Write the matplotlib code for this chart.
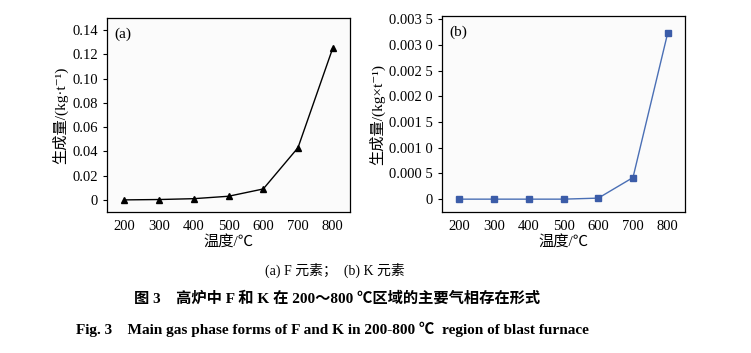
import matplotlib
matplotlib.use("Agg")
import matplotlib.pyplot as plt

plt.rcParams["font.family"] = ["Liberation Serif", "Noto Sans CJK SC", "DejaVu Serif"]
plt.rcParams["axes.unicode_minus"] = False

temps = [200, 300, 400, 500, 600, 700, 800]
f_amount = [0.0, 0.0003, 0.001, 0.003, 0.009, 0.043, 0.125]
k_amount = [0.0, 0.0, 0.0, 0.0, 0.00002, 0.00042, 0.00323]

f_yticks = [0, 0.02, 0.04, 0.06, 0.08, 0.10, 0.12, 0.14]
f_ylabels = ["0", "0.02", "0.04", "0.06", "0.08", "0.10", "0.12", "0.14"]
k_yticks = [0, 0.0005, 0.001, 0.0015, 0.002, 0.0025, 0.003, 0.0035]
k_ylabels = ["0", "0.000 5", "0.001 0", "0.001 5", "0.002 0",
             "0.002 5", "0.003 0", "0.003 5"]

fig = plt.figure(figsize=(7.51, 3.53), dpi=100)
ax_a = fig.add_axes([0.1425, 0.3994, 0.3236, 0.5496])
ax_b = fig.add_axes([0.5886, 0.3994, 0.3236, 0.5552])

blue = "#3b5ca8"
ax_a.plot(temps, f_amount, "k-", lw=1.0, marker="^", ms=5)
ax_b.plot(temps, k_amount, "-", color="#4a6fb5", lw=1.0, marker="s", ms=4.5,
          mfc=blue, mec=blue)

ax_a.set_ylim(-0.01, 0.15)
ax_a.set_yticks(f_yticks)
ax_a.set_yticklabels(f_ylabels)
ax_b.set_ylim(-0.00025, 0.00356)
ax_b.set_yticks(k_yticks)
ax_b.set_yticklabels(k_ylabels)

for ax, tag, ylab in [(ax_a, "(a)", "生成量/(kg·t⁻¹)"),
                      (ax_b, "(b)", "生成量/(kg×t⁻¹)")]:
    ax.set_xlim(150, 850)
    ax.set_xticks(temps)
    ax.tick_params(axis="x", length=0, pad=6, labelsize=10.5)
    ax.tick_params(axis="y", length=3, width=0.8, direction="out", labelsize=10.5)
    ax.set_facecolor("#fbfbfb")
    for s in ax.spines.values():
        s.set_linewidth(0.9)
    ax.set_xlabel("温度/℃", fontsize=11, labelpad=1)
    ax.set_ylabel(ylab, fontsize=11, labelpad=3)
    ax.text(0.03, 0.95, tag, transform=ax.transAxes, fontsize=11,
            ha="left", va="top")

fig.text(0.446, 0.235, "(a) F 元素；  (b) K 元素", ha="center", va="center",
         fontsize=10)
fig.text(0.449, 0.155, "图 3    高炉中 F 和 K 在 200～800 ℃区域的主要气相存在形式",
         ha="center", va="center", fontsize=11, fontweight="bold")
fig.text(0.443, 0.068, "Fig. 3    Main gas phase forms of F and K in 200-800 ℃  region of blast furnace",
         ha="center", va="center", fontsize=11, fontweight="bold")

fig.savefig("out.png", dpi=100)
